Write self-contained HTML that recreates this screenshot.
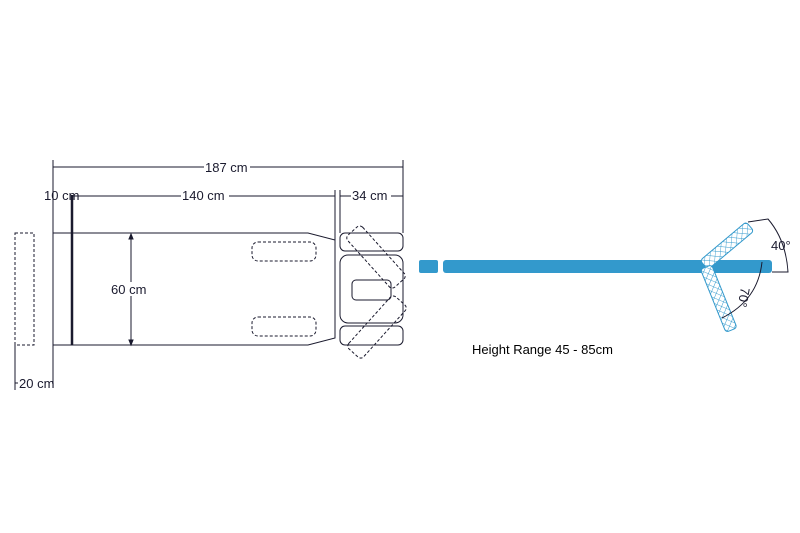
<!DOCTYPE html>
<html><head><style>body{margin:0;background:#fff}svg{display:block}</style></head><body>
<svg width="800" height="533" viewBox="0 0 800 533" xmlns="http://www.w3.org/2000/svg" font-family="Liberation Sans, sans-serif" font-size="13" fill="none" stroke="#1a1a2e" stroke-width="1">
<defs>
<pattern id="h" width="5" height="5" patternUnits="userSpaceOnUse" patternTransform="rotate(45)">
<rect width="5" height="5" fill="#fff" stroke="none"/>
<path d="M0 0H5M0 0V5" stroke="#3399cc" stroke-width="0.9"/>
</pattern>
</defs>
<path d="M53 160V383M403 160V233M53 167H403M72 196H335M340 196H403M335 190V240M340 190V233M15 345V390M15 383H53M131 234V345"/>
<path d="M131 234l-2 5h4zM131 345l-2 -5h4z" fill="#1a1a2e"/>
<g fill="#fff" stroke="none"><rect x="204" y="160" width="46" height="14"/><rect x="181" y="189" width="48" height="14"/><rect x="351" y="189" width="40" height="14"/><rect x="109" y="282" width="44" height="14"/><rect x="18" y="376" width="34" height="14"/></g>
<g fill="#1a1a2e" stroke="none">
<text x="205" y="172">187 cm</text><text x="182" y="200">140 cm</text><text x="352" y="200">34 cm</text>
<text x="44" y="200">10 cm</text><text x="111" y="294">60 cm</text><text x="19" y="388">20 cm</text>
<text x="472" y="354" font-size="13" fill="#000">Height Range 45 - 85cm</text>
</g>
<path d="M53 233H308L335 240V338L308 345H53Z"/>
<path d="M72 195V345" stroke-width="2.5"/>
<g stroke-dasharray="3,2">
<rect x="15" y="233" width="19" height="112"/>
<rect x="252" y="242" width="64" height="19" rx="6"/>
<rect x="252" y="317" width="64" height="19" rx="6"/>
<rect x="-35" y="-10" width="70" height="20" rx="4" transform="translate(376 257) rotate(48)"/>
<rect x="-35" y="-10" width="70" height="20" rx="4" transform="translate(377 327) rotate(-48)"/>
</g>
<rect x="340" y="233" width="63" height="18" rx="5"/>
<rect x="340" y="255" width="63" height="68" rx="8"/>
<rect x="352" y="280" width="39" height="20" rx="4"/>
<rect x="340" y="326" width="63" height="19" rx="5"/>
<g fill="#3399cc" stroke="none">
<rect x="419" y="260" width="19" height="13" rx="2"/>
<rect x="443" y="260" width="262" height="13" rx="3"/>
<rect x="709" y="260" width="63" height="13" rx="3"/>
</g>
<g stroke="#3399cc" fill="url(#h)">
<rect x="0" y="-6" width="60" height="12" rx="3" transform="translate(704 265) rotate(-40)"/>
<rect x="0" y="-6" width="68" height="12" rx="3" transform="translate(706 267) rotate(68)"/>
</g>
<path d="M748 222L768 219Q786 240 788 272H772"/>
<path d="M762 262Q758 300 722 318"/>
<g fill="#1a1a2e" stroke="none">
<text x="771" y="250">40°</text>
<text transform="translate(741 287) rotate(100)">70°</text>
</g>
</svg>
</body></html>
